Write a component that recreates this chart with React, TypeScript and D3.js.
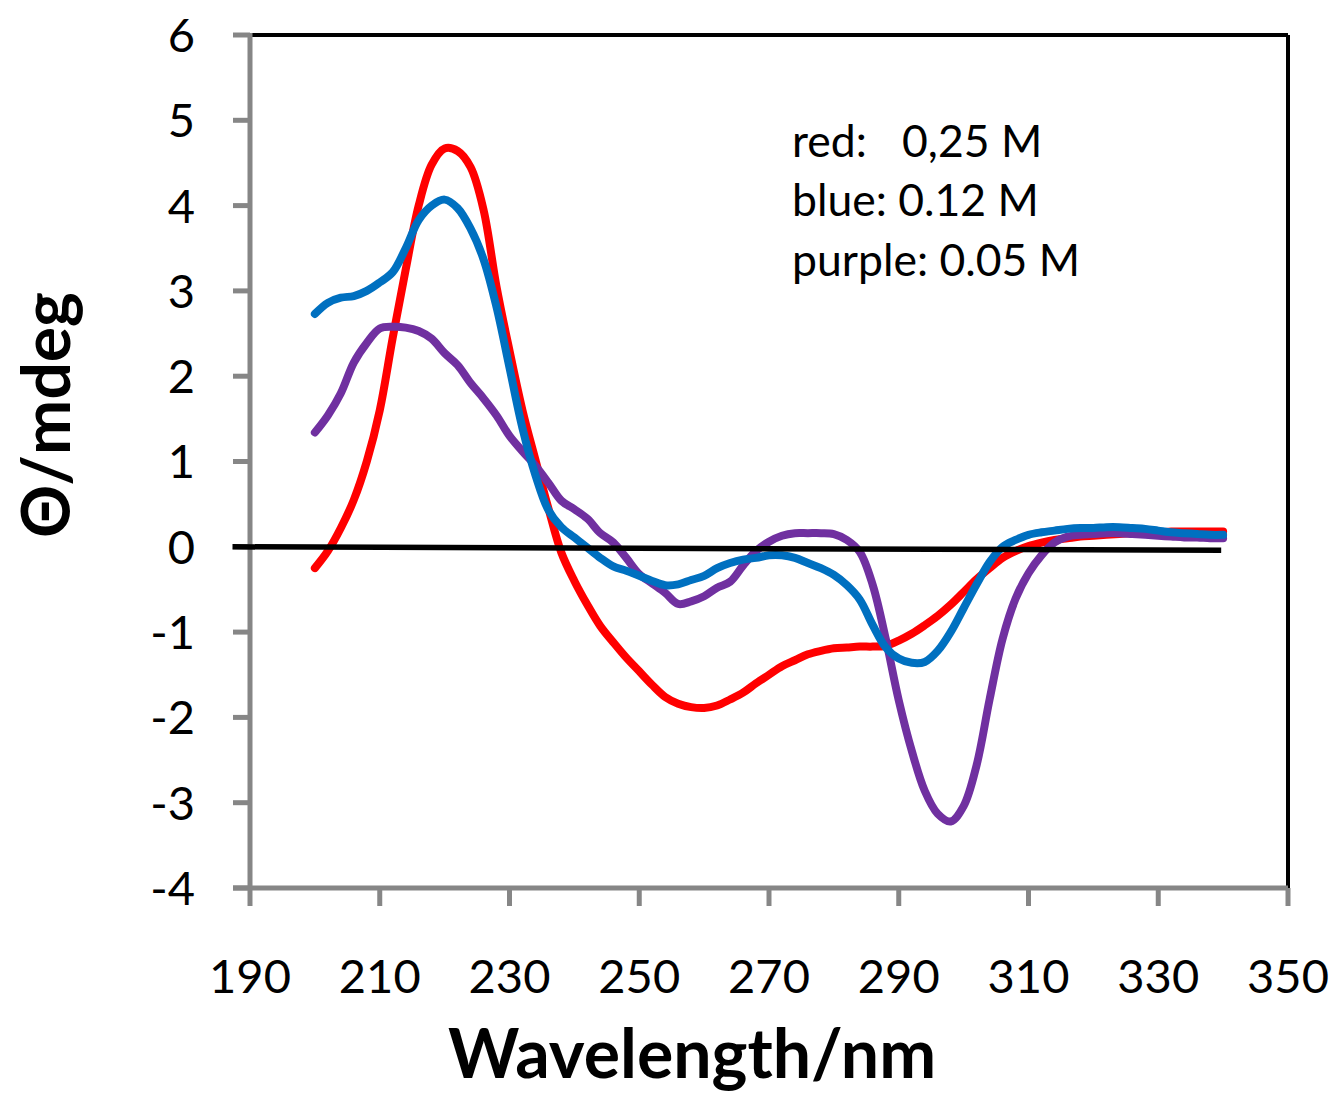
import React from 'react';
import * as d3 from 'd3';

// Wavelength grid (nm)
const wavelengths = [
  200, 202, 204, 206, 208, 210, 212, 214, 216, 218,
  220, 222, 224, 226, 228, 230, 232, 234, 236, 238,
  240, 242, 244, 246, 248, 250, 252, 254, 256, 258,
  260, 262, 264, 266, 268, 270, 272, 274, 276, 278,
  280, 282, 284, 286, 288, 290, 292, 294, 296, 298,
  300, 302, 304, 306, 308, 310, 312, 314, 316, 318,
  320, 322, 324, 326, 328, 330, 332, 334, 336, 338, 340,
];

// red: 0,25 M
const redValues = [
  -0.25, -0.05, 0.22, 0.55, 1.0, 1.6, 2.45, 3.25, 4.0, 4.48,
  4.67, 4.64, 4.45, 3.95, 3.05, 2.3, 1.6, 1.02, 0.45, -0.07,
  -0.4, -0.68, -0.93, -1.12, -1.3, -1.46, -1.62, -1.76, -1.84, -1.88,
  -1.89, -1.86, -1.79, -1.71, -1.6, -1.5, -1.4, -1.33, -1.26, -1.22,
  -1.19, -1.18, -1.17, -1.17, -1.16, -1.1, -1.02, -0.92, -0.81, -0.68,
  -0.53, -0.38, -0.25, -0.13, -0.05, 0.01, 0.05, 0.08, 0.1, 0.12,
  0.13, 0.14, 0.15, 0.16, 0.17, 0.17, 0.18, 0.18, 0.18, 0.18, 0.18,
];

// blue: 0.12 M
const blueValues = [
  2.73, 2.86, 2.92, 2.94, 3.0, 3.1, 3.22, 3.5, 3.83, 4.0,
  4.07, 3.97, 3.73, 3.37, 2.81, 2.1, 1.39, 0.84, 0.43, 0.23,
  0.11, -0.01, -0.13, -0.23, -0.28, -0.34, -0.4, -0.45, -0.44, -0.39,
  -0.34, -0.25, -0.19, -0.15, -0.13, -0.1, -0.1, -0.13, -0.19, -0.25,
  -0.33, -0.45, -0.62, -0.92, -1.18, -1.31, -1.36, -1.35, -1.22, -1.0,
  -0.72, -0.44, -0.18, 0.0, 0.08, 0.14, 0.17, 0.19, 0.21, 0.22,
  0.22, 0.23, 0.23, 0.22, 0.21, 0.19, 0.17, 0.16, 0.15, 0.14, 0.14,
];

// purple: 0.05 M
const purpleValues = [
  1.34, 1.54, 1.8, 2.16, 2.39, 2.56, 2.58, 2.57, 2.53, 2.44,
  2.27, 2.13, 1.92, 1.74, 1.54, 1.3, 1.12, 0.95, 0.75, 0.54,
  0.44, 0.33, 0.16, 0.05, -0.13, -0.32, -0.43, -0.54, -0.67, -0.64,
  -0.58, -0.48, -0.41, -0.22, -0.05, 0.06, 0.13, 0.16, 0.16, 0.16,
  0.15, 0.08, -0.06, -0.45, -1.08, -1.8, -2.39, -2.86, -3.13, -3.22,
  -3.04, -2.56, -1.79, -1.08, -0.61, -0.31, -0.1, 0.05, 0.12, 0.14,
  0.15, 0.16, 0.16, 0.15, 0.14, 0.13, 0.12, 0.11, 0.11, 0.1, 0.1,
];

// black zero reference line
const baselineX = [187.3, 339.7];
const baselineY = [0.0, -0.04];

const xTicks = [190, 210, 230, 250, 270, 290, 310, 330, 350];
const yTicks = [-4, -3, -2, -1, 0, 1, 2, 3, 4, 5, 6];

const legendLabels = ['red:', 'blue:', 'purple:'];
const legendValues = ['0,25 M', '0.12 M', '0.05 M'];

const series = [
  { name: 'red', values: redValues, color: '#FF0000' },
  { name: 'purple', values: purpleValues, color: '#7030A0' },
  { name: 'blue', values: blueValues, color: '#0070C0' },
];

const W = 1334;
const H = 1094;
const FONT = 'Lato, "Open Sans", sans-serif';
const AXIS_GREY = '#868686';

export default function App() {
  const x = d3.scaleLinear().domain([190, 350]).range([250, 1288]);
  const y = d3.scaleLinear().domain([-4, 6]).range([888, 35]);

  const line = d3
    .line<[number, number]>()
    .x((d) => x(d[0]))
    .y((d) => y(d[1]))
    .curve(d3.curveCatmullRom.alpha(0.5));

  const baseLine = d3
    .line<[number, number]>()
    .x((d) => x(d[0]))
    .y((d) => y(d[1]));

  const [x0, x1] = x.range();
  const [yb, yt] = y.range();

  return (
    <svg
      width={W}
      height={H}
      style={{ position: 'absolute', left: 0, top: 0, background: '#fff' }}
      fontFamily={FONT}
    >
      <rect x={0} y={0} width={W} height={H} fill="#fff" />

      {/* top and right borders */}
      <line x1={x0} y1={yt} x2={x1} y2={yt} stroke="#000" strokeWidth={4} />
      <line x1={x1} y1={yt} x2={x1} y2={yb} stroke="#000" strokeWidth={4} />

      {/* y axis */}
      <line x1={x0} y1={yt - 2} x2={x0} y2={yb} stroke={AXIS_GREY} strokeWidth={5} />
      {yTicks.map((t) => (
        <g key={'yt' + t}>
          <line x1={x0 - 17} y1={y(t)} x2={x0} y2={y(t)} stroke={AXIS_GREY} strokeWidth={5} />
          <text
            x={195}
            y={y(t)}
            dy="0.36em"
            textAnchor="end"
            fontSize={47}
            fill="#000"
          >
            {t}
          </text>
        </g>
      ))}

      {/* x axis */}
      <line x1={x0 - 17} y1={yb} x2={x1} y2={yb} stroke={AXIS_GREY} strokeWidth={5} />
      {xTicks.map((t) => (
        <g key={'xt' + t}>
          <line x1={x(t)} y1={yb} x2={x(t)} y2={yb + 18} stroke={AXIS_GREY} strokeWidth={5} />
          <text x={x(t)} y={993} textAnchor="middle" fontSize={47} fill="#000">
            {t}
          </text>
        </g>
      ))}

      {/* series */}
      {series.map((s) => (
        <path
          key={s.name}
          d={line(wavelengths.map((w, i) => [w, s.values[i]] as [number, number])) || ''}
          fill="none"
          stroke={s.color}
          strokeWidth={8}
          strokeLinecap="round"
          strokeLinejoin="round"
        />
      ))}

      {/* zero line */}
      <path
        d={baseLine(baselineX.map((w, i) => [w, baselineY[i]] as [number, number])) || ''}
        fill="none"
        stroke="#000"
        strokeWidth={5.5}
      />

      {/* legend text */}
      <text x={792} y={157} fontSize={44.5} fill="#000">
        <tspan>{legendLabels[0]}</tspan>
        <tspan x={902}>{legendValues[0]}</tspan>
      </text>
      <text x={792} y={216} fontSize={44.5} fill="#000">
        {legendLabels[1] + ' ' + legendValues[1]}
      </text>
      <text x={792} y={276} fontSize={44.5} fill="#000">
        {legendLabels[2] + ' ' + legendValues[2]}
      </text>

      {/* axis titles */}
      <text x={692} y={1078} textAnchor="middle" fontSize={68} fontWeight="bold" fill="#000">
        Wavelength/nm
      </text>
      <text
        transform="translate(70,415) rotate(-90)"
        textAnchor="middle"
        fontSize={66}
        fontWeight="bold"
        fill="#000"
      >
        Θ/mdeg
      </text>
    </svg>
  );
}
